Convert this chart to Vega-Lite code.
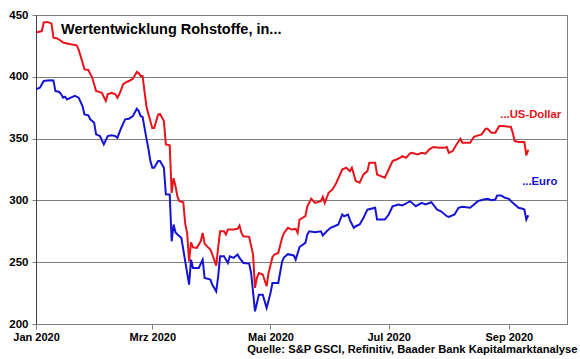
{
"$schema": "https://vega.github.io/schema/vega-lite/v6.json",
"width": 531, "height": 309,
"autosize": "none",
"padding": {"left": 36, "top": 15, "right": 13, "bottom": 35},
"background": "white",
"title": {"text": "Wertentwicklung Rohstoffe, in...", "anchor": "start", "frame": "group", "orient": "top", "offset": 0, "baseline": "alphabetic", "dx": 25, "dy": 39, "fontSize": 14.5, "fontWeight": "bold", "color": "black", "font": "Liberation Sans"},
"config": {"font": "Liberation Sans", "view": {"stroke": "#7f7f7f", "strokeWidth": 1}},
"datasets": {
"lines": [
{"date":"2020-01-01","series":"USD","value":435.8},{"date":"2020-01-04","series":"USD","value":437},{"date":"2020-01-05","series":"USD","value":444},{"date":"2020-01-07","series":"USD","value":444.4},{"date":"2020-01-09","series":"USD","value":443},{"date":"2020-01-10","series":"USD","value":431.7},{"date":"2020-01-12","series":"USD","value":431},{"date":"2020-01-14","series":"USD","value":429},{"date":"2020-01-15","series":"USD","value":427.7},{"date":"2020-01-17","series":"USD","value":427},{"date":"2020-01-19","series":"USD","value":426.3},{"date":"2020-01-22","series":"USD","value":425.5},{"date":"2020-01-23","series":"USD","value":422},{"date":"2020-01-25","series":"USD","value":411.5},{"date":"2020-01-26","series":"USD","value":406},{"date":"2020-01-28","series":"USD","value":405.5},{"date":"2020-01-30","series":"USD","value":399.4},{"date":"2020-01-31","series":"USD","value":394},{"date":"2020-02-01","series":"USD","value":388.5},{"date":"2020-02-04","series":"USD","value":387},{"date":"2020-02-06","series":"USD","value":380.4},{"date":"2020-02-07","series":"USD","value":385.8},{"date":"2020-02-09","series":"USD","value":387},{"date":"2020-02-11","series":"USD","value":385.8},{"date":"2020-02-12","series":"USD","value":383},{"date":"2020-02-13","series":"USD","value":385.8},{"date":"2020-02-15","series":"USD","value":394},{"date":"2020-02-17","series":"USD","value":396},{"date":"2020-02-18","series":"USD","value":396.6},{"date":"2020-02-20","series":"USD","value":398.5},{"date":"2020-02-22","series":"USD","value":403.9},{"date":"2020-02-23","series":"USD","value":403},{"date":"2020-02-24","series":"USD","value":400.6},{"date":"2020-02-25","series":"USD","value":400.6},{"date":"2020-02-26","series":"USD","value":388},{"date":"2020-02-27","series":"USD","value":376},{"date":"2020-02-28","series":"USD","value":370},{"date":"2020-03-01","series":"USD","value":358.5},{"date":"2020-03-02","series":"USD","value":358.5},{"date":"2020-03-04","series":"USD","value":369.5},{"date":"2020-03-05","series":"USD","value":370},{"date":"2020-03-07","series":"USD","value":364.2},{"date":"2020-03-08","series":"USD","value":345.3},{"date":"2020-03-10","series":"USD","value":344.5},{"date":"2020-03-11","series":"USD","value":306},{"date":"2020-03-12","series":"USD","value":318},{"date":"2020-03-13","series":"USD","value":311.5},{"date":"2020-03-14","series":"USD","value":303},{"date":"2020-03-15","series":"USD","value":299.3},{"date":"2020-03-17","series":"USD","value":298.5},{"date":"2020-03-18","series":"USD","value":281},{"date":"2020-03-19","series":"USD","value":273.7},{"date":"2020-03-20","series":"USD","value":250.7},{"date":"2020-03-21","series":"USD","value":266},{"date":"2020-03-22","series":"USD","value":262},{"date":"2020-03-24","series":"USD","value":261.6},{"date":"2020-03-26","series":"USD","value":266.9},{"date":"2020-03-27","series":"USD","value":273.7},{"date":"2020-03-28","series":"USD","value":265},{"date":"2020-03-30","series":"USD","value":261.6},{"date":"2020-03-31","series":"USD","value":260.2},{"date":"2020-04-01","series":"USD","value":256.2},{"date":"2020-04-03","series":"USD","value":247.2},{"date":"2020-04-04","series":"USD","value":262},{"date":"2020-04-05","series":"USD","value":275},{"date":"2020-04-07","series":"USD","value":275},{"date":"2020-04-08","series":"USD","value":272.4},{"date":"2020-04-09","series":"USD","value":276.4},{"date":"2020-04-12","series":"USD","value":276.4},{"date":"2020-04-14","series":"USD","value":277},{"date":"2020-04-15","series":"USD","value":279.7},{"date":"2020-04-16","series":"USD","value":273.7},{"date":"2020-04-17","series":"USD","value":271},{"date":"2020-04-20","series":"USD","value":270.5},{"date":"2020-04-22","series":"USD","value":256.2},{"date":"2020-04-23","series":"USD","value":229.2},{"date":"2020-04-24","series":"USD","value":237.3},{"date":"2020-04-25","series":"USD","value":241.3},{"date":"2020-04-27","series":"USD","value":240},{"date":"2020-04-29","series":"USD","value":230.5},{"date":"2020-04-30","series":"USD","value":241.3},{"date":"2020-05-02","series":"USD","value":254},{"date":"2020-05-03","series":"USD","value":256.2},{"date":"2020-05-05","series":"USD","value":257.5},{"date":"2020-05-07","series":"USD","value":269.7},{"date":"2020-05-08","series":"USD","value":273.7},{"date":"2020-05-10","series":"USD","value":277.8},{"date":"2020-05-12","series":"USD","value":276.4},{"date":"2020-05-14","series":"USD","value":277},{"date":"2020-05-15","series":"USD","value":273.7},{"date":"2020-05-16","series":"USD","value":284.5},{"date":"2020-05-19","series":"USD","value":287.2},{"date":"2020-05-20","series":"USD","value":295.3},{"date":"2020-05-22","series":"USD","value":301.3},{"date":"2020-05-24","series":"USD","value":298},{"date":"2020-05-27","series":"USD","value":299.4},{"date":"2020-05-28","series":"USD","value":302.9},{"date":"2020-05-29","series":"USD","value":298},{"date":"2020-05-31","series":"USD","value":306.2},{"date":"2020-06-02","series":"USD","value":308.9},{"date":"2020-06-04","series":"USD","value":314.3},{"date":"2020-06-07","series":"USD","value":325},{"date":"2020-06-09","series":"USD","value":326.4},{"date":"2020-06-11","series":"USD","value":323.7},{"date":"2020-06-12","series":"USD","value":326.4},{"date":"2020-06-14","series":"USD","value":315.6},{"date":"2020-06-16","series":"USD","value":314.3},{"date":"2020-06-18","series":"USD","value":321},{"date":"2020-06-20","series":"USD","value":323.7},{"date":"2020-06-21","series":"USD","value":330.5},{"date":"2020-06-24","series":"USD","value":330.5},{"date":"2020-06-25","series":"USD","value":321},{"date":"2020-06-27","series":"USD","value":319.6},{"date":"2020-06-29","series":"USD","value":318.3},{"date":"2020-07-01","series":"USD","value":325},{"date":"2020-07-03","series":"USD","value":331.8},{"date":"2020-07-05","series":"USD","value":333.1},{"date":"2020-07-07","series":"USD","value":334.5},{"date":"2020-07-08","series":"USD","value":335.8},{"date":"2020-07-10","series":"USD","value":334.5},{"date":"2020-07-12","series":"USD","value":338},{"date":"2020-07-13","series":"USD","value":338.5},{"date":"2020-07-16","series":"USD","value":337.2},{"date":"2020-07-18","series":"USD","value":338.5},{"date":"2020-07-20","series":"USD","value":337.8},{"date":"2020-07-22","series":"USD","value":341.3},{"date":"2020-07-24","series":"USD","value":343.2},{"date":"2020-07-27","series":"USD","value":342.6},{"date":"2020-07-30","series":"USD","value":342.6},{"date":"2020-07-31","series":"USD","value":343.2},{"date":"2020-08-01","series":"USD","value":338.5},{"date":"2020-08-03","series":"USD","value":339.9},{"date":"2020-08-05","series":"USD","value":345.3},{"date":"2020-08-07","series":"USD","value":349.9},{"date":"2020-08-08","series":"USD","value":346.7},{"date":"2020-08-12","series":"USD","value":346.7},{"date":"2020-08-14","series":"USD","value":351.5},{"date":"2020-08-15","series":"USD","value":352},{"date":"2020-08-18","series":"USD","value":353.4},{"date":"2020-08-20","series":"USD","value":358},{"date":"2020-08-21","series":"USD","value":358},{"date":"2020-08-23","series":"USD","value":354.8},{"date":"2020-08-25","series":"USD","value":354.8},{"date":"2020-08-27","series":"USD","value":360.1},{"date":"2020-08-29","series":"USD","value":360.1},{"date":"2020-09-01","series":"USD","value":359.6},{"date":"2020-09-02","series":"USD","value":359.6},{"date":"2020-09-03","series":"USD","value":354.8},{"date":"2020-09-04","series":"USD","value":348},{"date":"2020-09-06","series":"USD","value":347.2},{"date":"2020-09-09","series":"USD","value":347.2},{"date":"2020-09-10","series":"USD","value":336.4},{"date":"2020-09-11","series":"USD","value":341},
{"date":"2020-01-01","series":"EUR","value":389.9},{"date":"2020-01-03","series":"EUR","value":391.2},{"date":"2020-01-05","series":"EUR","value":396.6},{"date":"2020-01-08","series":"EUR","value":397.2},{"date":"2020-01-10","series":"EUR","value":397},{"date":"2020-01-11","series":"EUR","value":388.5},{"date":"2020-01-13","series":"EUR","value":387.7},{"date":"2020-01-14","series":"EUR","value":385.8},{"date":"2020-01-15","series":"EUR","value":383.1},{"date":"2020-01-16","series":"EUR","value":383.9},{"date":"2020-01-17","series":"EUR","value":381.7},{"date":"2020-01-19","series":"EUR","value":383.1},{"date":"2020-01-21","series":"EUR","value":384.5},{"date":"2020-01-23","series":"EUR","value":383.1},{"date":"2020-01-25","series":"EUR","value":376.3},{"date":"2020-01-26","series":"EUR","value":369.6},{"date":"2020-01-28","series":"EUR","value":368.8},{"date":"2020-01-29","series":"EUR","value":365.6},{"date":"2020-01-31","series":"EUR","value":362.9},{"date":"2020-02-01","series":"EUR","value":353.4},{"date":"2020-02-03","series":"EUR","value":352},{"date":"2020-02-05","series":"EUR","value":345.3},{"date":"2020-02-07","series":"EUR","value":352},{"date":"2020-02-09","series":"EUR","value":352.6},{"date":"2020-02-11","series":"EUR","value":352},{"date":"2020-02-12","series":"EUR","value":350.7},{"date":"2020-02-14","series":"EUR","value":358.8},{"date":"2020-02-16","series":"EUR","value":365.6},{"date":"2020-02-18","series":"EUR","value":366.1},{"date":"2020-02-20","series":"EUR","value":368.2},{"date":"2020-02-22","series":"EUR","value":374.2},{"date":"2020-02-23","series":"EUR","value":372.3},{"date":"2020-02-24","series":"EUR","value":368.2},{"date":"2020-02-25","series":"EUR","value":367.7},{"date":"2020-02-27","series":"EUR","value":350},{"date":"2020-02-28","series":"EUR","value":342},{"date":"2020-02-29","series":"EUR","value":332},{"date":"2020-03-01","series":"EUR","value":326.4},{"date":"2020-03-02","series":"EUR","value":326.4},{"date":"2020-03-04","series":"EUR","value":331.8},{"date":"2020-03-05","series":"EUR","value":331.8},{"date":"2020-03-07","series":"EUR","value":326.4},{"date":"2020-03-08","series":"EUR","value":305},{"date":"2020-03-10","series":"EUR","value":304.8},{"date":"2020-03-11","series":"EUR","value":266.9},{"date":"2020-03-12","series":"EUR","value":280.5},{"date":"2020-03-13","series":"EUR","value":274},{"date":"2020-03-14","series":"EUR","value":272.4},{"date":"2020-03-16","series":"EUR","value":269.7},{"date":"2020-03-18","series":"EUR","value":250.7},{"date":"2020-03-20","series":"EUR","value":231.8},{"date":"2020-03-21","series":"EUR","value":252.1},{"date":"2020-03-22","series":"EUR","value":245.4},{"date":"2020-03-25","series":"EUR","value":245.4},{"date":"2020-03-27","series":"EUR","value":252.1},{"date":"2020-03-28","series":"EUR","value":237.3},{"date":"2020-03-31","series":"EUR","value":235.9},{"date":"2020-04-01","series":"EUR","value":231.8},{"date":"2020-04-03","series":"EUR","value":226.4},{"date":"2020-04-04","series":"EUR","value":238.6},{"date":"2020-04-05","series":"EUR","value":254.8},{"date":"2020-04-07","series":"EUR","value":254.8},{"date":"2020-04-09","series":"EUR","value":249.4},{"date":"2020-04-10","series":"EUR","value":254.8},{"date":"2020-04-12","series":"EUR","value":253.5},{"date":"2020-04-14","series":"EUR","value":256.2},{"date":"2020-04-15","series":"EUR","value":253.5},{"date":"2020-04-17","series":"EUR","value":249.4},{"date":"2020-04-20","series":"EUR","value":248.9},{"date":"2020-04-21","series":"EUR","value":241.3},{"date":"2020-04-23","series":"EUR","value":210.2},{"date":"2020-04-25","series":"EUR","value":223.7},{"date":"2020-04-27","series":"EUR","value":223.7},{"date":"2020-04-29","series":"EUR","value":213},{"date":"2020-05-01","series":"EUR","value":225.1},{"date":"2020-05-02","series":"EUR","value":233.2},{"date":"2020-05-05","series":"EUR","value":233.2},{"date":"2020-05-07","series":"EUR","value":250.5},{"date":"2020-05-08","series":"EUR","value":254},{"date":"2020-05-10","series":"EUR","value":256.5},{"date":"2020-05-13","series":"EUR","value":255.5},{"date":"2020-05-14","series":"EUR","value":252.1},{"date":"2020-05-16","series":"EUR","value":262.3},{"date":"2020-05-19","series":"EUR","value":265.6},{"date":"2020-05-20","series":"EUR","value":272.4},{"date":"2020-05-21","series":"EUR","value":275},{"date":"2020-05-24","series":"EUR","value":274.3},{"date":"2020-05-27","series":"EUR","value":275},{"date":"2020-05-28","series":"EUR","value":271.6},{"date":"2020-05-30","series":"EUR","value":275},{"date":"2020-06-01","series":"EUR","value":277.8},{"date":"2020-06-03","series":"EUR","value":279.1},{"date":"2020-06-05","series":"EUR","value":280.5},{"date":"2020-06-07","series":"EUR","value":288.6},{"date":"2020-06-08","series":"EUR","value":287.2},{"date":"2020-06-10","series":"EUR","value":288.6},{"date":"2020-06-11","series":"EUR","value":284},{"date":"2020-06-13","series":"EUR","value":277.8},{"date":"2020-06-14","series":"EUR","value":279.1},{"date":"2020-06-16","series":"EUR","value":280.5},{"date":"2020-06-18","series":"EUR","value":285.9},{"date":"2020-06-20","series":"EUR","value":292.5},{"date":"2020-06-24","series":"EUR","value":294},{"date":"2020-06-25","series":"EUR","value":284.5},{"date":"2020-06-29","series":"EUR","value":284.5},{"date":"2020-07-01","series":"EUR","value":288.6},{"date":"2020-07-03","series":"EUR","value":295.3},{"date":"2020-07-06","series":"EUR","value":296.7},{"date":"2020-07-08","series":"EUR","value":295.9},{"date":"2020-07-10","series":"EUR","value":297.5},{"date":"2020-07-12","series":"EUR","value":299.4},{"date":"2020-07-13","series":"EUR","value":298},{"date":"2020-07-15","series":"EUR","value":295.3},{"date":"2020-07-18","series":"EUR","value":298},{"date":"2020-07-20","series":"EUR","value":296.7},{"date":"2020-07-23","series":"EUR","value":298.5},{"date":"2020-07-26","series":"EUR","value":292.5},{"date":"2020-07-28","series":"EUR","value":291.2},{"date":"2020-07-31","series":"EUR","value":287.2},{"date":"2020-08-01","series":"EUR","value":286.7},{"date":"2020-08-04","series":"EUR","value":288.6},{"date":"2020-08-06","series":"EUR","value":294},{"date":"2020-08-08","series":"EUR","value":294.8},{"date":"2020-08-12","series":"EUR","value":294},{"date":"2020-08-14","series":"EUR","value":296.7},{"date":"2020-08-16","series":"EUR","value":299.4},{"date":"2020-08-19","series":"EUR","value":300.7},{"date":"2020-08-21","series":"EUR","value":301.3},{"date":"2020-08-23","series":"EUR","value":300.2},{"date":"2020-08-25","series":"EUR","value":300.7},{"date":"2020-08-26","series":"EUR","value":304},{"date":"2020-08-28","series":"EUR","value":304},{"date":"2020-08-30","series":"EUR","value":302.1},{"date":"2020-09-01","series":"EUR","value":301.3},{"date":"2020-09-03","series":"EUR","value":298},{"date":"2020-09-06","series":"EUR","value":294},{"date":"2020-09-08","series":"EUR","value":293.2},{"date":"2020-09-09","series":"EUR","value":292.6},{"date":"2020-09-10","series":"EUR","value":284.5},{"date":"2020-09-11","series":"EUR","value":288}
],
"labels": [
{"date":"2020-09-28","series":"USD","value":368.8,"label":"...US-Dollar"},
{"date":"2020-09-26","series":"EUR","value":314.5,"label":"...Euro"}
]
},
"layer": [
{
"data": {"name": "lines"},
"mark": {"type": "line", "strokeWidth": 2, "clip": true},
"encoding": {
"x": {"field": "date", "type": "temporal",
 "scale": {"type": "utc", "domain": [{"year": 2020, "month": 1, "date": 1, "utc": true}, {"year": 2020, "month": 10, "date": 1, "utc": true}]},
 "axis": {"values": [{"year": 2020, "month": 1, "date": 1, "utc": true}, {"year": 2020, "month": 3, "date": 1, "utc": true}, {"year": 2020, "month": 5, "date": 1, "utc": true}, {"year": 2020, "month": 7, "date": 1, "utc": true}, {"year": 2020, "month": 9, "date": 1, "utc": true}],
  "labelExpr": "['Jan','Feb','Mrz','Apr','Mai','Jun','Jul','Aug','Sep','Okt','Nov','Dez'][utcmonth(datum.value)] + ' ' + utcyear(datum.value)",
  "grid": false, "tickSize": 5, "tickColor": "#7f7f7f", "domainColor": "#7f7f7f",
  "labelFontSize": 11, "labelFontWeight": "bold", "labelColor": "black", "labelPadding": 2, "labelOverlap": false, "labelFlush": false,
  "title": "Quelle: S&P GSCI, Refinitiv, Baader Bank Kapitalmarktanalyse",
  "titleFontSize": 11.2, "titleFontWeight": "bold", "titleColor": "black", "titleAnchor": "end", "titleAlign": "right", "titleX": 541, "titlePadding": 1}},
"y": {"field": "value", "type": "quantitative",
 "scale": {"domain": [200, 450], "nice": false, "zero": false},
 "axis": {"values": [200, 250, 300, 350, 400, 450], "grid": true, "gridColor": "#7f7f7f", "gridOpacity": 1, "tickSize": 4, "tickColor": "#7f7f7f", "domainColor": "#3f3f3f",
  "labelFontSize": 11.5, "labelFontWeight": "bold", "labelColor": "black", "labelPadding": 4, "title": null}},
"color": {"field": "series", "type": "nominal", "scale": {"domain": ["USD", "EUR"], "range": ["#e8141c", "#1414d2"]}, "legend": null}
}
},
{
"data": {"name": "labels"},
"mark": {"type": "text", "align": "right", "baseline": "middle", "fontWeight": "bold", "fontSize": 11.3},
"encoding": {
"x": {"field": "date", "type": "temporal"},
"y": {"field": "value", "type": "quantitative"},
"text": {"field": "label"},
"color": {"field": "series", "type": "nominal", "legend": null}
}
}
]
}
